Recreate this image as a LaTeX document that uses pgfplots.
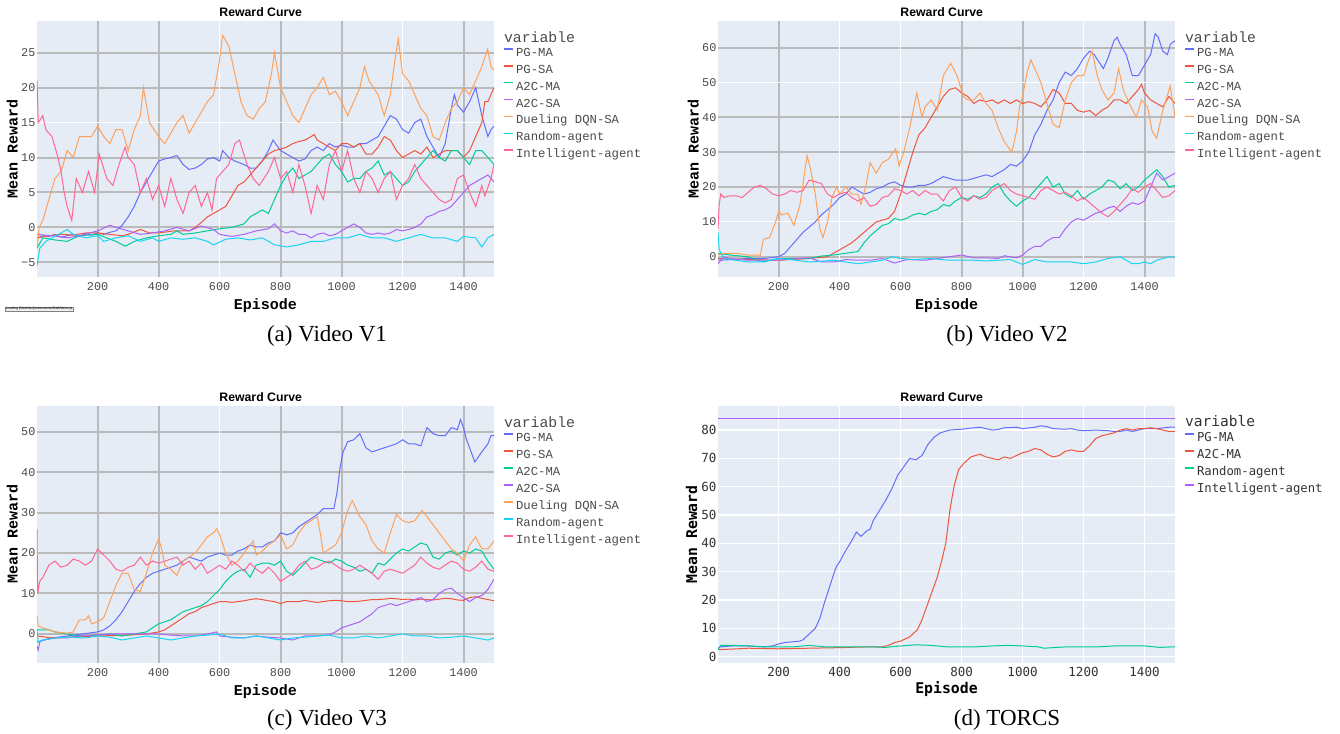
\documentclass[border=0pt]{standalone}
\usepackage{fontspec}
\setmainfont{Liberation Serif}
\newfontfamily\cour{Liberation Mono}
\newfontfamily\arialf{Liberation Sans}
\newfontfamily\djm{DejaVu Sans Mono}
\usepackage{pgfplots}
\pgfplotsset{compat=1.18}

\definecolor{bgc}{HTML}{E5ECF6}
\definecolor{grd}{HTML}{BABABA}
\definecolor{cPGMA}{HTML}{636EFA}
\definecolor{cPGSA}{HTML}{EF553B}
\definecolor{cA2CMA}{HTML}{00CC96}
\definecolor{cA2CSA}{HTML}{AB63FA}
\definecolor{cDQN}{HTML}{FFA15A}
\definecolor{cRand}{HTML}{19D3F3}
\definecolor{cInt}{HTML}{FF6692}
\definecolor{txt}{HTML}{4A4A4A}
\definecolor{txtd}{HTML}{333333}

\pgfplotsset{
  rc/.style={
    scale only axis, width=342.75pt, height=192.5pt,
    xmin=1, xmax=1500,
    axis background/.style={fill=bgc},
    axis line style={draw=none},
    major tick length=0pt,
    grid=major,
    major grid style={grd, line width=1.5pt},
    extra tick style={grid=major, major grid style={white, line width=0.75pt}},
    /pgf/number format/assume math mode=true,
    /pgf/number format/1000 sep={},
    tick label style={font=\cour\fontsize{8.9}{10}\selectfont, text=txt},
    xticklabel style={anchor=center, inner sep=0pt, yshift=-7.3pt},
    yticklabel style={anchor=east, inner sep=0pt, xshift=-1pt},
    title={Reward Curve},
    title style={at={(0.4895,1.002)}, anchor=center, inner sep=0pt, font=\arialf\bfseries\fontsize{9.2}{10}\selectfont},
    xlabel={Episode}, ylabel={Mean Reward},
    label style={font=\cour\bfseries\fontsize{11.25}{12}\selectfont, text=black, inner sep=0pt},
    xlabel style={at={(0.5,-0.112)}, anchor=center},
    ylabel style={at={(-0.054,0.5)}, anchor=center},
    legend style={draw=none, fill=none, at={(1,1)}, anchor=north west,
      xshift=6.75pt, yshift=-5pt, inner sep=0pt, outer sep=0pt,
      column sep=2pt, row sep=0pt,
      font=\cour\fontsize{9.2}{11}\selectfont, text=txt,
      nodes={inner sep=0pt, text height=9pt, text depth=3.7pt}},
    legend cell align=left,
    legend image code/.code={\draw[##1, line width=1.3pt] (0pt,3pt) -- (6.5pt,3pt);},
    every axis plot/.append style={line width=0.75pt, mark=none},
  },
}

\begin{document}
\begin{tikzpicture}
\path[use as bounding box] (0,0) rectangle (1005pt,550.5pt);

% ---------------- (a) Video V1 ----------------
\begin{axis}[rc, at={(27.75pt,342.5pt)}, anchor=south west,
  ymin=-7.15, ymax=29.6,
  xtick={200,400,800,1000,1400}, extra x ticks={600,1200},
  ytick={-5,0,5,10,20,25}, yticklabels={−5,0,5,10,20,25},
  extra y ticks={15}, extra y tick labels={15},
]
\addlegendimage{empty legend}
\addlegendentry{\hspace*{-9pt}\raisebox{-2.2pt}{\fontsize{11.1}{12}\selectfont variable}}
\addplot[cPGMA] coordinates {(1,-1.5)(20,-1.2)(40,-1.3)(60,-1.0)(80,-1.4)(100,-1.2)(120,-1.0)(140,-1.3)(160,-0.9)(180,-1.1)(200,-0.8)(220,-1.0)(240,-0.7)(260,-0.5)(280,0.3)(300,1.5)(320,3)(340,5)(360,6.5)(380,8)(400,9.5)(420,9.8)(440,10)(460,10.3)(480,9)(500,8.3)(520,8.5)(540,9)(560,9.8)(580,10)(600,9.5)(610,11)(630,10)(650,9.5)(680,9)(700,8.5)(720,8.5)(740,9.5)(760,11)(775,12.5)(800,11)(820,10.5)(840,10)(860,9.5)(880,9.8)(900,11)(920,11.5)(940,11)(960,12)(980,11.5)(1000,11.8)(1020,11.5)(1040,11.5)(1060,12)(1080,12)(1100,12.5)(1120,13)(1140,14.5)(1160,16)(1180,15.5)(1200,14)(1220,13.5)(1240,15)(1260,15.5)(1280,13)(1300,11.5)(1320,10)(1340,12)(1360,17)(1370,19)(1380,17.5)(1400,16.5)(1420,18)(1440,20)(1450,18)(1460,16)(1470,14.5)(1480,13)(1490,14)(1500,14.5)};
\addlegendentry{PG-MA}
\addplot[cPGSA] coordinates {(1,-1.5)(40,-1.2)(80,-1.0)(120,-1.1)(160,-0.8)(200,-0.8)(240,-1.0)(280,-1.2)(300,-1.0)(340,-0.3)(370,-0.8)(400,-0.8)(450,-0.5)(500,-0.5)(520,0)(540,0.7)(560,1.5)(580,2)(600,2.5)(620,3)(640,4.5)(660,6)(680,6.5)(700,7.5)(720,8.5)(740,9.5)(760,10.5)(780,11)(800,11.2)(820,11.5)(840,12)(860,12.3)(880,12.5)(900,13)(910,13.3)(920,12.5)(940,12)(960,11.5)(980,11)(1000,12)(1020,12)(1040,11.5)(1060,12)(1080,10.5)(1100,10.5)(1120,11.5)(1140,13)(1160,12.5)(1180,11)(1200,10)(1220,10.5)(1240,11)(1260,10.5)(1280,11.5)(1300,10)(1320,10.5)(1340,11)(1360,11)(1380,11)(1400,10)(1420,11)(1440,13)(1460,15)(1470,18)(1480,18)(1490,19)(1500,20)};
\addlegendentry{PG-SA}
\addplot[cA2CMA] coordinates {(1,-3)(20,-1.5)(60,-1.8)(100,-2)(140,-1.2)(200,-1)(230,-1.5)(260,-2)(290,-2.7)(320,-2)(360,-1.5)(400,-1.2)(440,-1)(460,-0.5)(480,-1)(520,-0.8)(560,-0.5)(600,-0.2)(640,0)(680,0.5)(700,1.5)(720,2)(740,2.5)(760,2)(780,4)(800,6)(820,7.5)(840,8.5)(860,7)(880,7.5)(900,8)(920,9)(940,10)(960,10.5)(980,9)(1000,8)(1020,6.5)(1040,7)(1060,7)(1080,8)(1100,8.5)(1120,9.5)(1140,7.5)(1160,8)(1180,7)(1200,6)(1220,6.5)(1240,8)(1260,9)(1280,10)(1300,11)(1320,10)(1340,9.5)(1360,11)(1380,11)(1400,10)(1420,9)(1440,11)(1460,11)(1480,10)(1500,9)};
\addlegendentry{A2C-MA}
\addplot[cA2CSA] coordinates {(1,-1)(50,-1.2)(100,-1.5)(140,-1.2)(200,-0.5)(240,0.3)(260,0)(300,-0.5)(340,-1)(380,-0.8)(420,-0.5)(460,0)(500,-0.5)(540,0.2)(580,-0.3)(600,-1)(640,-1.3)(680,-1)(720,-0.5)(760,-0.2)(780,0.5)(800,-0.5)(820,-0.8)(840,-0.5)(860,-1)(880,-1)(900,-1.5)(920,-1)(940,-0.8)(960,-1.2)(980,-1)(1000,-0.5)(1040,0.5)(1060,0)(1080,-0.8)(1100,-1)(1120,-0.8)(1140,-1)(1160,-0.8)(1180,-0.3)(1200,-0.5)(1220,-0.3)(1240,0)(1260,0.5)(1280,1.5)(1300,1.8)(1320,2.3)(1340,2.5)(1360,3)(1380,4)(1400,5)(1420,6)(1440,6.5)(1460,7)(1480,7.5)(1500,6.5)};
\addlegendentry{A2C-SA}
\addplot[cDQN] coordinates {(1,-3)(8,0)(20,1)(40,4)(60,7)(80,8)(100,11)(120,10)(140,13)(160,13)(180,13)(200,14.5)(220,13)(240,12)(260,14)(280,14)(300,11)(320,14)(340,16)(350,20)(370,15)(400,13)(420,12)(440,13.5)(460,15)(480,16)(500,13.5)(520,15)(540,16.5)(560,18)(580,19)(600,24)(610,27.5)(630,26)(650,22)(670,18)(690,16)(710,15.5)(730,17)(750,18)(770,22)(780,25)(800,20)(820,18)(840,16)(860,15)(880,17)(900,19)(920,20)(940,21.5)(960,19)(980,19.5)(1000,18)(1020,16)(1040,18)(1060,20)(1075,23)(1090,21)(1120,19)(1140,16)(1160,19)(1175,24)(1186,27)(1200,22)(1220,21)(1240,19)(1260,17)(1280,16)(1300,13)(1320,12.5)(1340,15)(1360,17)(1380,18)(1400,20)(1420,19)(1440,21)(1460,23)(1479,25.5)(1490,23)(1500,22.5)};
\addlegendentry{Dueling DQN-SA}
\addplot[cRand] coordinates {(1,-5.5)(10,-3)(30,-2)(50,-1.5)(80,-0.8)(100,-0.3)(120,-1)(160,-1.5)(200,-1.2)(220,-2)(260,-1.5)(300,-1.2)(340,-2)(380,-1.5)(400,-2)(440,-1.5)(480,-1.7)(520,-1.5)(560,-2)(580,-2.5)(620,-1.7)(660,-1.5)(700,-1.8)(740,-1.5)(780,-2.5)(820,-2.8)(860,-2.5)(900,-2)(940,-2)(980,-1.5)(1020,-1.5)(1060,-1)(1100,-1.5)(1140,-1.5)(1180,-2)(1220,-1.5)(1260,-1)(1300,-1.5)(1340,-1.5)(1380,-2)(1400,-1.3)(1440,-1.5)(1460,-2.8)(1480,-1.5)(1500,-1)};
\addlegendentry{Random-agent}
\addplot[cInt] coordinates {(1,21)(5,15)(20,16)(30,14)(50,13)(70,10)(80,8)(90,5)(100,3)(115,1)(130,7)(150,5)(170,8)(190,5)(205,10.5)(230,7)(250,6)(270,9)(290,11.5)(300,10)(320,9)(340,5)(360,7)(380,4)(400,6)(420,3)(440,7)(460,4)(480,2)(500,5)(520,6)(540,3)(560,5)(575,2.5)(590,7)(610,8)(630,9)(650,12)(665,12.5)(690,9)(710,7)(730,6)(760,8)(780,10)(800,7)(820,8)(840,5)(860,9)(880,6)(900,2)(920,6)(940,4)(960,9)(980,11)(1000,8)(1020,11)(1040,7)(1060,5)(1080,8)(1100,7)(1120,5)(1140,7)(1160,8)(1180,4)(1200,6)(1220,7)(1240,9)(1260,7)(1280,6)(1300,5)(1320,4)(1340,3.5)(1360,4)(1380,7)(1400,7.5)(1420,5)(1440,3)(1460,6)(1470,4.5)(1490,7)(1500,9)};
\addlegendentry{Intelligent-agent}
\end{axis}

% ---------------- (b) Video V2 ----------------
\begin{axis}[rc, at={(538.5pt,342.5pt)}, anchor=south west,
  ymin=-5.9, ymax=67.75,
  xtick={200,800,1000,1400}, extra x ticks={400,600,1200},
  ytick={0,20,30,40,60},
  extra y ticks={10,50},
]
\addlegendimage{empty legend}
\addlegendentry{\hspace*{-9pt}\raisebox{-2.2pt}{\fontsize{11.1}{12}\selectfont variable}}
\addplot[cPGMA] coordinates {(1,-1)(50,-0.8)(100,-0.5)(150,-0.5)(200,0)(220,1)(240,3)(260,5)(280,7)(300,8.5)(320,10)(340,12)(360,13.5)(380,15)(400,17)(420,18)(440,20)(460,19)(480,18)(500,18.5)(520,19.5)(540,20)(560,21)(580,21.5)(600,20.5)(620,20)(640,20)(660,20.5)(680,20.5)(700,21)(720,22)(740,23)(760,22.5)(780,22)(800,22)(820,22)(840,22.5)(860,23)(880,23.5)(900,23)(920,24)(940,25)(960,26.5)(980,26)(1000,27.5)(1020,30)(1040,35)(1060,38)(1080,42)(1100,45)(1120,50)(1140,53)(1160,52)(1180,54)(1200,57)(1220,59)(1235,58)(1250,56)(1265,54)(1280,57)(1300,62)(1310,63)(1320,61)(1340,58)(1360,52)(1380,52)(1400,55)(1420,58)(1435,64)(1445,63)(1460,59)(1475,58)(1485,61)(1500,62)};
\addlegendentry{PG-MA}
\addplot[cPGSA] coordinates {(1,-0.5)(100,-0.8)(200,-1)(300,-0.5)(360,0)(400,2)(440,4)(480,7)(520,10)(560,11)(580,13)(600,18)(620,24)(640,30)(660,35)(680,37)(700,40)(720,43)(740,46)(760,48)(780,48.5)(800,47)(820,46)(840,44)(860,45)(880,44.5)(900,45)(920,44)(940,45)(960,44)(980,45)(1000,44)(1020,44.5)(1040,44)(1060,43)(1080,45)(1100,48)(1120,47)(1140,44)(1160,44)(1180,42)(1200,41.5)(1220,42)(1240,40.5)(1260,42)(1280,43)(1300,45)(1320,45)(1340,44)(1360,46)(1380,48)(1390,49.5)(1400,47)(1420,45)(1440,44)(1460,43)(1480,46)(1500,44)};
\addlegendentry{PG-SA}
\addplot[cA2CMA] coordinates {(1,1)(40,0.5)(100,0)(150,-1.5)(200,-0.5)(260,-0.5)(300,-0.5)(340,0.2)(380,0.5)(420,1)(460,1.5)(480,4)(500,6)(520,7.5)(540,9)(560,9.5)(580,11)(600,10.5)(620,11)(640,12)(660,12.5)(680,12)(700,13)(720,13.5)(740,15)(760,14.5)(780,16)(800,17)(820,16.5)(840,17.5)(860,17)(880,18)(900,20)(920,21)(940,18)(960,16)(980,14.5)(1000,16)(1020,17)(1040,19)(1060,21)(1080,23)(1100,20)(1120,21)(1140,18)(1160,17)(1180,19)(1200,16.5)(1220,18)(1240,19)(1260,20)(1280,22)(1300,21.5)(1320,19.5)(1340,21)(1360,19)(1380,20)(1400,22)(1420,23.5)(1440,25)(1460,23)(1480,20)(1500,20.5)};
\addlegendentry{A2C-MA}
\addplot[cA2CSA] coordinates {(1,-2)(20,0)(40,-0.5)(100,-1)(200,-1)(260,-0.5)(300,-0.3)(340,-1.5)(380,-1.5)(420,-0.8)(460,-1)(500,-1)(540,-0.5)(580,-1.8)(620,-0.8)(680,-1)(720,-0.5)(760,0)(800,0.5)(840,-0.3)(880,-0.3)(920,-0.5)(940,0.3)(980,-0.3)(1000,0.5)(1020,2)(1040,3)(1060,3)(1080,4.5)(1100,5.5)(1120,5.5)(1140,8)(1160,10)(1180,11)(1200,10.5)(1220,11.5)(1240,12.5)(1260,13)(1280,14)(1300,14.5)(1320,13)(1340,14.5)(1360,15.5)(1380,15)(1400,16)(1420,20)(1440,24)(1460,22)(1480,23)(1500,24)};
\addlegendentry{A2C-SA}
\addplot[cDQN] coordinates {(1,0.5)(20,1)(60,1)(100,0.5)(140,0.5)(150,5)(170,5.5)(190,10)(200,13)(210,12)(230,12.5)(250,9)(270,15)(293,29)(305,25)(320,18)(335,8)(345,5.5)(360,10)(375,17)(390,20)(400,18)(420,20)(440,18)(460,18)(470,15)(485,20)(500,27)(520,24)(540,27)(560,28)(584,31)(595,26)(610,30)(630,37)(653,47)(670,40)(680,43)(700,45)(720,42)(740,52)(764,55.5)(785,52)(806,46)(820,45)(840,45)(860,47)(880,44)(900,42)(920,37)(940,33)(965,30)(980,36)(990,43)(1000,46)(1015,53)(1027,56.5)(1045,53)(1060,50)(1080,44)(1100,38)(1120,37)(1140,45)(1160,50)(1180,52)(1200,52)(1215,56)(1228,59)(1245,52)(1260,48)(1280,45)(1300,47)(1315,54)(1330,48)(1350,44)(1373,40)(1390,45)(1410,43)(1425,36)(1440,34)(1460,42)(1484,49)(1492,45)(1500,40)};
\addlegendentry{Dueling DQN-SA}
\addplot[cRand] coordinates {(1,7)(5,2)(20,-0.5)(60,-1)(100,-1.5)(140,-1.5)(200,-0.5)(240,-0.8)(300,-1.5)(340,-1.3)(380,-1)(420,-1.5)(460,-2)(500,-1.5)(540,-1)(570,0)(600,-0.5)(640,-0.8)(700,-0.5)(760,-1)(800,-1)(840,-1)(880,-1.2)(920,-1)(960,-0.8)(1000,-2.2)(1040,-0.8)(1080,-1.5)(1120,-1.5)(1160,-1.5)(1200,-2)(1240,-1.5)(1280,-0.5)(1320,0)(1340,-1)(1360,-2)(1380,-2)(1400,-1.5)(1420,-2)(1440,-1)(1480,0)(1500,0)};
\addlegendentry{Random-agent}
\addplot[cInt] coordinates {(1,8)(5,15)(10,18)(20,17)(40,17.5)(60,17.5)(80,17)(100,18.5)(120,20)(140,20.5)(160,19.5)(180,18)(200,17.5)(220,18)(240,19)(260,18.5)(280,19)(300,22)(320,21.5)(340,21)(360,18)(380,17)(400,18)(420,18.5)(440,17)(460,16)(480,17)(500,14.5)(520,15)(540,17)(560,17.5)(580,19.5)(600,19)(620,18)(640,19)(660,17.5)(680,19)(700,18)(720,18)(740,16)(760,19)(780,20)(800,17)(820,16)(840,17.5)(860,16.5)(880,17)(900,19)(920,20)(940,21)(960,19)(980,18)(1000,17.5)(1020,17)(1040,16.5)(1060,19)(1080,20)(1100,19)(1120,18)(1140,18.5)(1160,17.5)(1180,16)(1200,17)(1220,15.5)(1240,14)(1260,12.5)(1280,11.5)(1300,13)(1320,15)(1340,17)(1360,19.5)(1380,18.5)(1400,20)(1420,21)(1440,19)(1460,17)(1480,17.5)(1500,19)};
\addlegendentry{Intelligent-agent}
\end{axis}

% ---------------- (c) Video V3 ----------------
\begin{axis}[rc, at={(27.75pt,53.5pt)}, anchor=south west,
  ymin=-7.1, ymax=56.35,
  xtick={200,400,800,1000,1400}, extra x ticks={600,1200},
  ytick={0,10,20,30,40,50},
]
\addlegendimage{empty legend}
\addlegendentry{\hspace*{-9pt}\raisebox{-2.2pt}{\fontsize{11.1}{12}\selectfont variable}}
\addplot[cPGMA] coordinates {(1,-2)(50,-1)(100,-0.5)(150,0)(200,0.5)(220,1)(240,2)(260,3.5)(280,5.5)(300,8)(320,10.5)(340,12.5)(360,14)(380,15)(400,15.5)(420,16)(440,16.5)(460,17)(480,18)(500,19)(520,18.5)(540,18)(560,19)(580,19.5)(600,20)(620,19.5)(640,19.5)(660,20.5)(680,21)(700,22)(720,21.5)(740,21.5)(760,22.5)(780,23)(800,25)(820,24.5)(840,25)(860,26.5)(880,27.5)(900,28.5)(920,29.5)(940,31)(960,31)(975,31)(985,35)(995,41)(1005,45)(1020,47.5)(1040,48)(1060,49.5)(1080,46)(1100,45)(1120,45.5)(1140,46)(1160,46.5)(1180,47)(1200,48)(1220,47)(1240,47)(1260,46.5)(1280,51)(1300,49.5)(1320,49)(1340,49)(1360,51)(1380,50.5)(1390,53)(1400,51)(1410,48)(1420,46)(1437,42.5)(1460,45)(1480,47)(1490,49)(1500,49)};
\addlegendentry{PG-MA}
\addplot[cPGSA] coordinates {(1,-0.5)(50,-1)(100,-0.8)(200,-0.5)(300,-0.3)(360,0)(400,0.5)(420,1)(440,2)(460,3)(480,4)(500,5)(520,5.5)(540,6.5)(560,7)(580,7.5)(600,8)(620,8)(640,7.8)(660,8)(680,8.2)(700,8.5)(720,8.7)(740,8.5)(760,8.2)(780,8)(800,7.5)(820,8)(840,8)(860,8)(880,8.3)(900,8)(920,7.8)(940,8)(960,8.2)(980,8.3)(1000,8.2)(1020,8)(1040,8)(1060,8.1)(1080,8.3)(1100,8.5)(1120,8.5)(1140,8.6)(1160,8.8)(1180,8.7)(1200,8.5)(1220,8.6)(1240,8.4)(1260,8.6)(1280,8.5)(1300,8.4)(1320,8.6)(1340,8.8)(1360,8.7)(1380,8.4)(1400,8.3)(1420,9)(1440,9.2)(1460,8.8)(1480,8.5)(1500,8.2)};
\addlegendentry{PG-SA}
\addplot[cA2CMA] coordinates {(1,1)(20,1)(40,1)(60,0.5)(100,0)(140,-0.5)(200,-0.3)(240,0)(280,-0.5)(320,0)(360,0.5)(380,1.5)(400,2.5)(420,3)(440,3.5)(460,4.5)(480,5.5)(500,6)(520,6.5)(540,7)(560,8)(580,9.5)(600,11)(620,13)(640,14.5)(660,15.5)(680,16)(700,14)(720,17)(740,17.5)(760,17.5)(780,17)(800,18)(820,15.5)(840,14.5)(860,16)(880,17.5)(900,19)(920,18.5)(940,18)(960,17.5)(980,18.5)(1000,18)(1020,17)(1040,16.5)(1060,15.5)(1080,16)(1100,15)(1120,17.5)(1140,17)(1160,18.5)(1180,20)(1200,21)(1220,20.5)(1240,21.5)(1260,22.5)(1280,22)(1300,19)(1320,18.5)(1340,20)(1360,20.5)(1380,19.5)(1400,20.5)(1420,20)(1440,21)(1460,20.5)(1480,18)(1500,16)};
\addlegendentry{A2C-MA}
\addplot[cA2CSA] coordinates {(1,-3)(5,-4)(10,-2)(20,-1.5)(60,-1)(100,-1)(140,-0.5)(200,-0.2)(260,0)(300,0)(340,0)(400,0)(440,-0.3)(480,-0.5)(520,-0.5)(560,0)(590,0.5)(600,-0.5)(640,-0.8)(680,-1)(720,-0.5)(760,-0.8)(800,-1)(840,-1.5)(860,-1)(880,-0.5)(920,-0.5)(960,-0.2)(980,0.5)(1000,1.5)(1020,2)(1040,2.5)(1060,3)(1080,4)(1100,5)(1120,6.5)(1140,7)(1160,7.5)(1180,7)(1200,7.5)(1220,8)(1240,8.5)(1260,9)(1280,8)(1300,8.5)(1320,10)(1340,11)(1360,11.3)(1380,10)(1400,9)(1420,8)(1440,9)(1460,9.5)(1480,11)(1500,13.5)};
\addlegendentry{A2C-SA}
\addplot[cDQN] coordinates {(1,4.5)(5,2)(20,1.5)(60,0.5)(100,0.2)(120,0.5)(140,3.5)(160,3.5)(170,4.5)(180,2.5)(200,3)(220,4)(240,8)(260,12)(280,15)(300,15)(310,13)(320,11)(340,10.5)(360,15)(380,20)(400,23.5)(410,21)(420,17)(440,16)(460,14.5)(480,18)(500,19)(520,20)(540,22)(560,24)(580,25)(590,26)(600,24.5)(620,20)(640,17)(660,18)(680,20)(700,22)(710,23)(720,19.5)(740,20.5)(760,22)(780,23)(800,24.5)(820,21)(840,22)(860,25)(880,27)(900,28)(920,29)(930,25)(940,20)(960,21)(980,22)(1000,25)(1020,30.5)(1035,33)(1060,29)(1080,27)(1100,23)(1120,21)(1140,20)(1160,25)(1180,29.5)(1200,28)(1220,27.5)(1240,28)(1264,30.5)(1280,29)(1300,27)(1320,25)(1340,23)(1360,21)(1380,20)(1400,18)(1420,22)(1440,24)(1460,21)(1480,21)(1500,23)};
\addlegendentry{Dueling DQN-SA}
\addplot[cRand] coordinates {(1,1)(5,-2)(20,-1.5)(60,-1)(100,-0.8)(160,-1)(200,-0.5)(240,-0.8)(280,-1.5)(320,-1)(360,-0.5)(400,-1)(440,-1.5)(480,-1)(520,-0.5)(560,-0.3)(600,0)(640,-1)(680,-1)(720,-0.5)(760,-1)(800,-1.5)(840,-1)(880,-0.8)(920,-0.5)(960,-0.3)(1000,-1)(1040,-1)(1080,-0.5)(1120,-1)(1160,-0.5)(1200,0)(1240,-0.5)(1280,-0.5)(1320,-1)(1360,-0.8)(1400,-0.5)(1440,-1)(1480,-1.5)(1500,-1)};
\addlegendentry{Random-agent}
\addplot[cInt] coordinates {(1,26)(3,10)(10,13)(20,14)(40,17)(60,18)(80,16.5)(100,17)(120,18.5)(140,18)(160,17)(180,18)(200,21)(220,19.5)(240,18)(260,16)(280,15.5)(300,16.5)(320,17)(340,19)(360,17)(380,18)(400,17.5)(420,18)(440,18.5)(460,19)(480,17)(500,18)(520,16)(540,17.5)(560,15)(580,16)(600,17)(620,16)(640,18)(660,17)(680,15.5)(700,17.5)(720,16)(740,15)(760,16.5)(780,15)(800,13)(820,14)(840,15)(860,17)(880,18)(900,16)(920,16.5)(940,17.5)(960,18)(980,17)(1000,16)(1020,15.5)(1040,16)(1060,17)(1080,16)(1100,15)(1120,13.5)(1140,15.5)(1160,16)(1180,15.5)(1200,15)(1220,16)(1240,17)(1260,19)(1280,17.5)(1300,16.5)(1320,16)(1340,17)(1360,18)(1380,17.5)(1400,16)(1420,15.5)(1440,16.5)(1460,18)(1480,16)(1500,15.5)};
\addlegendentry{Intelligent-agent}
\end{axis}

% ---------------- (d) TORCS ----------------
\begin{axis}[rc, at={(538.5pt,53.5pt)}, anchor=south west,
  ymin=-2.1, ymax=88.5,
  major grid style={white, line width=1pt},
  xtick={200,400,600,800,1000,1200,1400},
  ytick={0,10,20,30,40,50,60,70,80},
  tick label style={font=\djm\fontsize{9.4}{10}\selectfont, text=txtd},
  label style={font=\djm\bfseries\fontsize{11.1}{12}\selectfont, text=black},
  xlabel style={at={(0.5,-0.103)}},
  ylabel style={at={(-0.058,0.5)}},
  legend style={font=\djm\fontsize{9.2}{11}\selectfont, text=txtd},
]
\addlegendimage{empty legend}
\addlegendentry{\hspace*{-9pt}\raisebox{-1.5pt}{\fontsize{10.9}{12}\selectfont variable}}
\addplot[cPGMA] coordinates {(1,3)(10,3.5)(50,3.8)(100,3.8)(150,3.5)(180,3.8)(200,4.5)(220,5)(250,5.3)(270,5.5)(280,6)(300,8)(320,10)(335,13.5)(350,19)(365,24)(380,29)(390,32)(400,33.5)(420,37.5)(440,41)(455,44)(470,42.5)(490,44.5)(500,45)(510,48)(530,51.5)(550,55)(570,59)(590,64)(610,67)(630,70)(650,69.5)(670,71)(690,75)(710,77.5)(730,79)(760,80)(800,80.3)(840,80.8)(860,81)(880,80.5)(900,80)(920,80.2)(940,80.8)(980,81)(1000,80.5)(1040,81)(1060,81.5)(1080,81.2)(1100,80.5)(1140,80.3)(1160,80.5)(1180,80)(1200,79.8)(1240,80)(1280,79.8)(1300,79.5)(1320,79.5)(1340,80)(1360,79.5)(1400,80.5)(1440,80.5)(1480,81)(1500,81)};
\addlegendentry{PG-MA}
\addplot[cPGSA] coordinates {(1,2.5)(50,2.7)(100,3)(200,2.8)(300,3)(400,3.2)(500,3.5)(540,3.5)(560,4)(580,5)(600,5.5)(630,7)(655,9.5)(670,13)(690,19)(700,22)(720,28)(735,34)(748,40)(762,52)(775,60)(790,66)(805,68)(830,70.5)(860,71.5)(880,70.5)(900,70)(920,69.5)(940,70.5)(960,70)(980,71)(1000,72)(1020,72.5)(1040,73.5)(1060,73)(1080,71.5)(1100,70.5)(1120,71)(1140,72.5)(1160,73)(1180,72.5)(1200,72.5)(1220,74.5)(1240,77)(1260,78)(1280,78.5)(1300,79)(1320,80)(1340,80.5)(1360,80)(1380,80.5)(1400,80.5)(1420,80.8)(1440,80.5)(1460,80)(1480,79.5)(1500,79.5)};
\addlegendentry{A2C-MA}
\addplot[cA2CMA] coordinates {(1,2.5)(10,4)(50,4)(100,3.8)(150,3.5)(200,3.5)(250,3.5)(300,4)(350,3.5)(400,3.5)(450,3.5)(500,3.5)(550,3.3)(600,3.8)(650,4.2)(700,4)(750,3.5)(800,3.5)(850,3.5)(900,3.8)(950,4)(1000,3.8)(1050,3.5)(1070,3)(1100,3.2)(1150,3.5)(1200,3.5)(1250,3.5)(1300,3.8)(1350,3.8)(1400,3.8)(1450,3.3)(1500,3.5)};
\addlegendentry{Random-agent}
\addplot[cA2CSA] coordinates {(1,84)(1500,84)};
\addlegendentry{Intelligent-agent}
\end{axis}

% captions
\node[font=\fontsize{17.25}{20}\selectfont, inner sep=0pt] at (245.25pt,298.7pt) {(a) Video V1};
\node[font=\fontsize{17.25}{20}\selectfont, inner sep=0pt] at (755.25pt,298.7pt) {(b) Video V2};
\node[font=\fontsize{17.25}{20}\selectfont, inner sep=0pt] at (245.25pt,10.6pt) {(c) Video V3};
\node[font=\fontsize{17.25}{20}\selectfont, inner sep=0pt] at (755.25pt,10.6pt) {(d) TORCS};
\node[draw=gray, fill=gray!12, inner sep=0.4pt, anchor=west, font=\arialf\fontsize{2.6}{3}\selectfont] at (3.75pt,318.75pt) {Loading [MathJax]/extensions/MathMenu.js};
\end{tikzpicture}
\end{document}
